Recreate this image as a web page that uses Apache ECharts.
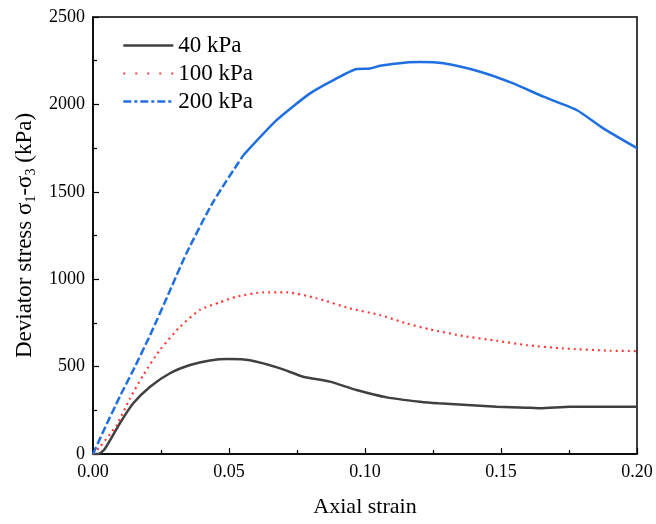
<!DOCTYPE html>
<html>
<head>
<meta charset="utf-8">
<script src="https://cdn.jsdelivr.net/npm/echarts@6/dist/echarts.min.js"></script>
<style>
html,body{margin:0;padding:0;background:#fff;}
#chart{width:656px;height:524px;}
</style>
</head>
<body>
<div id="chart"></div>
<script>
// ---- data ----
var seriesNames = ['40 kPa', '100 kPa', '200 kPa'];
var xTicks = [0, 0.05, 0.10, 0.15, 0.20];
var yTicks = [0, 500, 1000, 1500, 2000, 2500];

var strain40 = [0, 0.002, 0.0044, 0.0099, 0.0148, 0.021, 0.0283, 0.0357, 0.043, 0.0497, 0.0577, 0.0688, 0.0773, 0.0871, 0.0969, 0.108, 0.1202, 0.127, 0.1361, 0.1484, 0.1594, 0.1643, 0.1754, 0.1876, 0.2];
var stress40 = [0, 0, 30, 176, 290, 385, 462, 509, 535, 543, 536, 490, 442, 414, 366, 324, 299, 290, 282, 271, 265, 262, 271, 270, 270];

var strain100 = [0, 0.0026, 0.0087, 0.0136, 0.0185, 0.0246, 0.032, 0.0393, 0.0467, 0.0528, 0.0626, 0.0712, 0.0822, 0.0945, 0.1055, 0.1153, 0.1239, 0.1361, 0.1484, 0.1594, 0.1729, 0.19, 0.2];
var stress100 = [0, 42, 166, 318, 452, 595, 728, 824, 868, 900, 925, 925, 891, 833, 795, 747, 713, 675, 648, 623, 604, 591, 589];

var strain200 = [0, 0.0038, 0.0099, 0.0148, 0.021, 0.0283, 0.0344, 0.0442, 0.0553, 0.0675, 0.0798, 0.0884, 0.0969, 0.1018, 0.1055, 0.1153, 0.1202, 0.1288, 0.1423, 0.1545, 0.1656, 0.1778, 0.1876, 0.2];
var stress200 = [0, 130, 330, 480, 680, 935, 1150, 1443, 1710, 1910, 2063, 2139, 2202, 2205, 2221, 2240, 2242, 2235, 2187, 2120, 2044, 1968, 1863, 1750];

function pairs(xs, ys) { return xs.map(function (x, i) { return [x, ys[i]]; }); }
var split200 = 8; // dashed segment ends here, solid afterwards
var d200 = pairs(strain200, stress200);

var FONT = '"Liberation Serif", "Times New Roman", serif';
var cBlack = '#404040', cRed = '#ff3b3b', cBlue = '#1f6fe0';

var chart = echarts.init(document.getElementById('chart'), null, {renderer: 'canvas'});
chart.setOption({
  animation: false,
  backgroundColor: '#fff',
  textStyle: {fontFamily: FONT, color: '#000'},
  grid: {left: 93, right: 19, top: 17, bottom: 70, show: true, borderColor: '#000', borderWidth: 1.5, backgroundColor: 'transparent'},
  legend: {
    show: true, orient: 'vertical', left: 117, top: 29, itemWidth: 50, itemHeight: 14, itemGap: 5,
    itemStyle: {opacity: 0},
    textStyle: {fontFamily: FONT, fontSize: 23, color: '#000'},
    data: [
      {name: seriesNames[0], lineStyle: {color: cBlack, width: 2.6, type: 'solid'}},
      {name: seriesNames[1], lineStyle: {color: cRed, width: 2.2, type: [2, 10]}},
      {name: seriesNames[2], lineStyle: {color: cBlue, width: 2.5, type: [8, 3, 3, 3]}}
    ]
  },
  xAxis: {
    type: 'value', min: 0, max: 0.2, interval: 0.05,
    name: 'Axial strain', nameLocation: 'middle', nameGap: 42,
    nameTextStyle: {fontFamily: FONT, fontSize: 22, color: '#000'},
    axisLine: {show: true, lineStyle: {color: '#000', width: 1.5}},
    axisTick: {show: true, inside: true, length: 6, lineStyle: {color: '#000', width: 1.2}},
    minorTick: {show: true, splitNumber: 2, length: 4, lineStyle: {color: '#000', width: 1.2}},
    splitLine: {show: false},
    axisLabel: {fontFamily: FONT, fontSize: 18, color: '#000', margin: 9, formatter: function (v) { return v.toFixed(2); }}
  },
  yAxis: {
    type: 'value', min: 0, max: 2500, interval: 500,
    name: '{n|Deviator stress σ}{s|1}{n|-σ}{s|3}{n| (kPa)}', nameLocation: 'middle', nameGap: 51,
    nameTextStyle: {fontFamily: FONT, fontSize: 23, color: '#000',
      rich: {n: {fontFamily: FONT, fontSize: 23, color: '#000'}, s: {fontFamily: FONT, fontSize: 14, color: '#000', verticalAlign: 'bottom', padding: [12, 0, 0, 0]}}},
    axisLine: {show: true, lineStyle: {color: '#000', width: 1.5}},
    axisTick: {show: true, inside: true, length: 6, lineStyle: {color: '#000', width: 1.2}},
    minorTick: {show: true, splitNumber: 2, length: 4, lineStyle: {color: '#000', width: 1.2}},
    splitLine: {show: false},
    axisLabel: {fontFamily: FONT, fontSize: 18, color: '#000', margin: 8, formatter: function (v) { return String(v); }}
  },
  series: [
    {name: seriesNames[0], type: 'line', data: pairs(strain40, stress40), symbol: 'none', smooth: 0.2,
      lineStyle: {color: cBlack, width: 2.5}, itemStyle: {color: cBlack}},
    {name: seriesNames[1], type: 'line', data: pairs(strain100, stress100), symbol: 'none', smooth: 0.2,
      lineStyle: {color: cRed, width: 2.2, type: [2, 4]}, itemStyle: {color: cRed}},
    {name: seriesNames[2], type: 'line', data: d200.slice(0, split200 + 1), symbol: 'none', smooth: 0.2,
      lineStyle: {color: cBlue, width: 2.5, type: [8, 3]}, itemStyle: {color: cBlue}},
    {name: seriesNames[2] + ' (cont.)', type: 'line', data: d200.slice(split200), symbol: 'none', smooth: 0.2,
      lineStyle: {color: cBlue, width: 2.5, type: 'solid'}, itemStyle: {color: cBlue}}
  ]
});
</script>
</body>
</html>
